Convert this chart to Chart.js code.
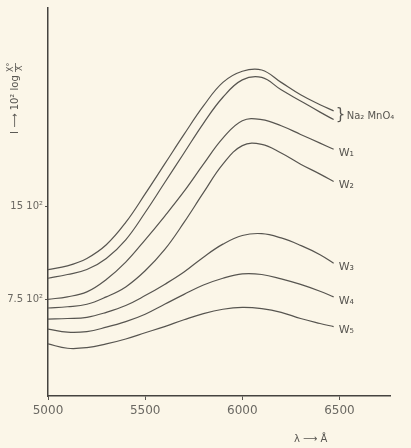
<!DOCTYPE html>
<html>
<head>
<meta charset="utf-8">
<script src="https://cdn.jsdelivr.net/npm/chart.js@4.4.0/dist/chart.umd.min.js"></script>
<style>
  html, body { margin: 0; background: #fbf6e8; }
  #wrap { width: 411px; height: 448px; }
</style>
</head>
<body>
<div id="wrap"><canvas id="chart" width="411" height="448"></canvas></div>
<script>
// wavelength in Angstrom, intensity in units of 10^2
const wavelengths = [5000, 5100, 5200, 5300, 5400, 5500, 5600, 5700, 5800, 5900, 6000, 6100, 6200, 6300, 6400, 6470];
const naMnO4a = [9.9, 10.2, 10.8, 11.9, 13.7, 16.0, 18.4, 20.8, 23.1, 25.0, 25.9, 26.0, 25.0, 24.0, 23.2, 22.7];
const naMnO4b = [9.2, 9.5, 9.9, 10.8, 12.3, 14.5, 16.9, 19.3, 21.7, 23.8, 25.2, 25.4, 24.4, 23.5, 22.6, 22.0];
const w1 = [7.5, 7.7, 8.1, 9.1, 10.5, 12.3, 14.2, 16.2, 18.4, 20.5, 21.9, 22.0, 21.5, 20.8, 20.1, 19.6];
const w2 = [6.8, 6.9, 7.1, 7.7, 8.5, 9.8, 11.5, 13.7, 16.1, 18.4, 19.9, 20.0, 19.3, 18.4, 17.6, 17.0];
const w3 = [5.9, 5.95, 6.05, 6.45, 7.0, 7.8, 8.7, 9.7, 10.9, 11.95, 12.65, 12.8, 12.45, 11.85, 11.1, 10.4];
const w4 = [5.1, 4.85, 4.9, 5.25, 5.7, 6.3, 7.1, 7.9, 8.65, 9.2, 9.55, 9.5, 9.15, 8.7, 8.15, 7.7];
const w5 = [3.9, 3.55, 3.6, 3.9, 4.3, 4.8, 5.3, 5.85, 6.35, 6.7, 6.85, 6.75, 6.45, 5.95, 5.55, 5.3];

const seriesNames = ['Na₂ MnO₄', 'Na₂ MnO₄', 'W₁', 'W₂', 'W₃', 'W₄', 'W₅'];
const seriesValues = [naMnO4a, naMnO4b, w1, w2, w3, w4, w5];
const xTicks = [5000, 5500, 6000, 6500];
const yTicks = [7.5, 15];

const ink = '#575550';
Chart.defaults.font.family = '"DejaVu Sans", sans-serif';
Chart.defaults.color = '#6a6862';

// labels at the right end of the curves + axis titles
const annotate = {
  id: 'annotate',
  afterDatasetsDraw(chart) {
    const ctx = chart.ctx;
    const lastPt = i => {
      const pts = chart.getDatasetMeta(i).data;
      return pts[pts.length - 1];
    };
    ctx.save();
    ctx.fillStyle = ink;
    ctx.textBaseline = 'middle';

    // brace for the two Na2MnO4 curves
    const a = lastPt(0), b = lastPt(1);
    const mid = (a.y + b.y) / 2;
    ctx.font = '15px "DejaVu Sans"';
    ctx.textAlign = 'left';
    ctx.fillText('}', a.x + 2, mid);
    ctx.font = '10px "DejaVu Sans"';
    ctx.fillText(seriesNames[0], a.x + 13, mid + 1);

    ctx.font = '11px "DejaVu Sans"';
    for (let i = 2; i < seriesNames.length; i++) {
      const p = lastPt(i);
      ctx.fillText(seriesNames[i], p.x + 5, p.y + 4);
    }

    // y axis title, rotated
    ctx.save();
    ctx.translate(15, 134);
    ctx.rotate(-Math.PI / 2);
    ctx.font = '10px "DejaVu Sans"';
    ctx.textAlign = 'left';
    const head = 'I ⟶ 10² log ';
    ctx.fillText(head, 0, 0);
    const fx = ctx.measureText(head).width;
    ctx.font = '8px "DejaVu Sans"';
    ctx.fillText('X°', fx, -4);
    ctx.fillText('X', fx + 1, 5);
    ctx.fillRect(fx, 0, 9, 0.8);
    ctx.restore();

    // x axis title
    ctx.font = '10px "DejaVu Sans"';
    ctx.textAlign = 'left';
    ctx.fillText('λ ⟶ Å', 294, 439);
    ctx.restore();
  }
};

new Chart(document.getElementById('chart'), {
  type: 'line',
  data: {
    datasets: seriesValues.map((vals, i) => ({
      label: seriesNames[i],
      data: vals.map((v, j) => ({ x: wavelengths[j], y: v })),
      borderColor: ink,
      borderWidth: 1.2,
      pointRadius: 0,
      fill: false,
      tension: 0.4
    }))
  },
  options: {
    responsive: false,
    animation: false,
    layout: { padding: { top: 3, right: 21, left: 0, bottom: 0 } },
    plugins: { legend: { display: false }, tooltip: { enabled: false } },
    scales: {
      x: {
        type: 'linear',
        min: 5000,
        max: 6760,
        afterBuildTicks: s => { s.ticks = xTicks.map(v => ({ value: v })); },
        afterFit: s => { s.height = 52; },
        ticks: { padding: 4, font: { size: 12 }, callback: v => String(v) },
        grid: { drawOnChartArea: false, tickLength: 4, color: ink },
        border: { color: '#45433f', width: 1.5 }
      },
      y: {
        min: -0.3,
        max: 31,
        afterBuildTicks: s => { s.ticks = yTicks.map(v => ({ value: v })); },
        afterFit: s => { s.width = 48; },
        ticks: { padding: 2, font: { size: 10 }, callback: v => v + ' 10²' },
        grid: { drawOnChartArea: false, tickLength: 3, color: ink },
        border: { color: '#45433f', width: 1.5 }
      }
    }
  },
  plugins: [annotate]
});
</script>
</body>
</html>
